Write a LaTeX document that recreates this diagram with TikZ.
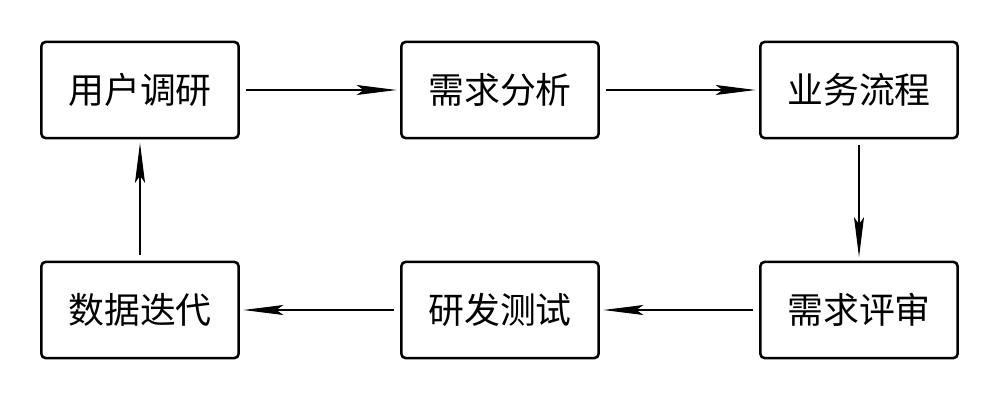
\documentclass[tikz,border=0pt]{standalone}
\usepackage{fontspec}
\setmainfont{Noto Sans CJK SC}
\usetikzlibrary{arrows.meta}
\begin{document}
\begin{tikzpicture}[x=0.01cm,y=-0.01cm,
  stepbox/.style={draw,line width=0.72pt,rounded corners=0.04cm,minimum width=1.97cm,minimum height=0.96cm,inner sep=0pt,font=\fontsize{10.2pt}{12pt}\selectfont},
  flow/.style={line width=0.35pt,-{Stealth[length=4mm,width=1mm,inset=0.7mm]},shorten <=0.06cm,shorten >=0.035cm}]
\useasboundingbox (0,0) rectangle (1000,400);
\node[stepbox] (a) at (140,90) {用户调研};
\node[stepbox] (b) at (500,90) {需求分析};
\node[stepbox] (c) at (859,90) {业务流程};
\node[stepbox] (d) at (859,310) {需求评审};
\node[stepbox] (e) at (500,310) {研发测试};
\node[stepbox] (f) at (140,310) {数据迭代};
\draw[flow] (a.east) -- (b.west);
\draw[flow] (b.east) -- (c.west);
\draw[flow] (c.south) -- (d.north);
\draw[flow] (d.west) -- (e.east);
\draw[flow] (e.west) -- (f.east);
\draw[flow] (f.north) -- (a.south);
\end{tikzpicture}
\end{document}
